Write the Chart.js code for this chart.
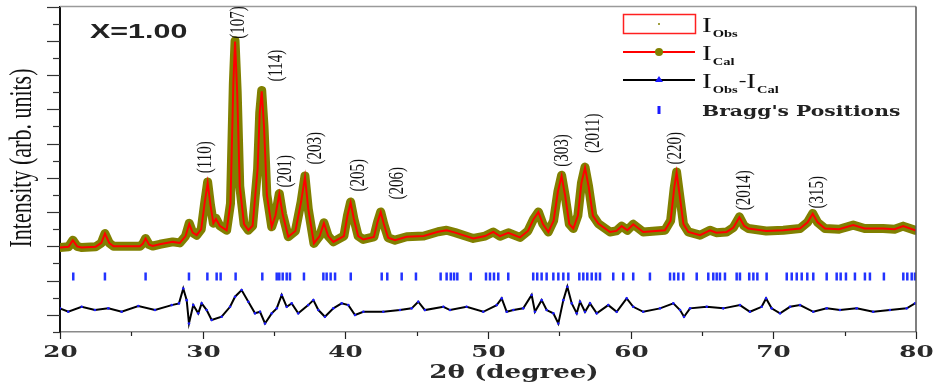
<!DOCTYPE html>
<html><head><meta charset="utf-8">
<script src="https://cdn.jsdelivr.net/npm/chart.js@4.4.1/dist/chart.umd.min.js"></script>
<style>html,body{margin:0;padding:0;background:#fff}#wrap{width:933px;height:387px;position:relative}</style>
</head><body><div id="wrap"><canvas id="c"></canvas></div>
<script>
// ---- data ----
const profileTheta = [20.0,20.6,20.9,21.2,21.5,22.5,22.9,23.15,23.45,23.75,25.6,25.8,26.0,26.25,26.5,27.0,27.9,28.4,28.8,29.06,29.3,29.58,29.9,30.15,30.35,30.55,30.75,30.93,31.2,31.68,31.95,32.15,32.27,32.42,32.6,32.9,33.2,33.5,33.85,34.0,34.14,34.3,34.5,34.84,35.1,35.37,35.6,36.0,36.5,36.9,37.17,37.4,37.8,38.2,38.5,38.8,39.16,39.9,40.15,40.37,40.6,40.9,41.26,42.0,42.25,42.48,42.7,43.0,43.48,44.3,45.5,46.5,47.1,47.7,48.97,49.8,50.37,50.84,51.42,52.24,52.8,53.2,53.53,53.85,54.23,54.6,54.9,55.16,55.4,55.7,55.98,56.3,56.55,56.8,57.05,57.35,57.73,58.55,59.0,59.37,59.77,60.18,60.88,62.4,62.8,63.05,63.22,63.4,63.7,64.04,64.86,65.56,66.0,66.73,67.2,67.62,67.95,68.25,69.5,70.7,71.87,72.4,72.76,73.1,73.62,74.6,75.6,76.4,77.7,78.5,79.1,79.93,80.0];
const observedIntensity = [4.93,4.98,5.36,5.0,4.93,4.98,5.2,5.75,5.2,5.0,5.0,5.15,5.46,5.1,5.02,5.12,5.26,5.2,5.6,6.35,5.8,5.65,6.0,7.6,8.76,7.4,6.35,6.64,6.2,5.94,7.5,14.5,17.0,14.0,8.5,6.3,5.94,6.2,9.5,12.8,14.1,12.0,8.0,6.14,6.8,8.08,6.9,5.56,5.9,7.6,9.11,7.2,5.17,5.6,6.37,5.6,5.26,5.6,6.8,7.59,6.6,5.6,5.4,5.55,6.4,7.01,6.3,5.5,5.36,5.56,5.6,5.85,5.94,5.8,5.46,5.6,5.84,5.59,5.79,5.52,5.9,6.6,7.01,6.3,5.84,6.5,8.2,9.15,8.0,6.3,6.04,6.8,8.7,9.63,8.5,6.8,6.33,5.84,5.9,6.18,5.94,6.29,5.84,5.94,6.5,8.4,9.34,8.2,6.3,5.84,5.65,5.94,5.8,5.84,6.1,6.72,6.2,6.04,5.9,5.94,6.04,6.4,6.92,6.4,6.04,6.0,6.24,6.04,6.04,6.0,6.18,5.94,5.94];
const calculatedIntensity = [4.93,4.98,5.36,5.0,4.93,4.98,5.2,5.75,5.2,5.0,5.0,5.15,5.46,5.1,5.02,5.12,5.26,5.2,5.6,6.3,5.8,5.65,6.0,7.6,8.7,7.4,6.35,6.6,6.2,5.94,7.5,14.5,16.95,14.0,8.5,6.3,5.94,6.2,9.5,12.8,14.05,12.0,8.0,6.14,6.8,8.05,6.9,5.56,5.9,7.6,9.05,7.2,5.17,5.6,6.35,5.6,5.26,5.6,6.8,7.55,6.6,5.6,5.4,5.55,6.4,7.0,6.3,5.5,5.36,5.56,5.6,5.85,5.94,5.8,5.46,5.6,5.84,5.59,5.79,5.52,5.9,6.6,7.0,6.3,5.84,6.5,8.2,9.1,8.0,6.3,6.04,6.8,8.7,9.6,8.5,6.8,6.33,5.84,5.9,6.18,5.94,6.29,5.84,5.94,6.5,8.4,9.3,8.2,6.3,5.84,5.65,5.94,5.8,5.84,6.1,6.7,6.2,6.04,5.9,5.94,6.04,6.4,6.9,6.4,6.04,6.0,6.24,6.04,6.04,6.0,6.18,5.94,5.94];
const diffTheta = [20.0,20.58,21.52,22.45,23.39,24.32,25.49,26.66,27.83,28.34,28.64,28.88,29.04,29.34,29.69,29.93,30.28,30.63,31.33,31.92,32.27,32.73,33.2,33.67,34.02,34.37,34.84,35.19,35.54,35.89,36.24,36.7,37.4,37.76,38.11,38.57,39.16,39.74,40.21,40.68,41.26,42.66,43.83,44.65,45.11,45.58,46.87,47.34,48.5,49.67,50.61,50.96,51.31,51.78,52.47,53.06,53.29,53.76,54.11,54.58,54.93,55.28,55.56,55.87,56.22,56.45,56.8,57.15,57.62,58.43,59.02,59.72,60.18,60.88,62.06,62.99,63.46,63.74,64.16,65.33,66.49,67.66,68.36,69.18,69.49,69.88,70.47,71.17,71.87,72.8,73.74,74.67,75.84,77.0,78.17,79.35,79.93];
const diffIntensity = [1.38,1.18,1.47,1.28,1.38,1.18,1.52,1.28,1.57,1.67,2.54,1.86,0.5,1.57,1.09,1.67,1.28,0.7,0.89,1.47,2.06,2.45,1.77,1.09,1.18,0.5,1.09,1.38,2.16,1.47,1.67,1.09,1.57,1.86,1.28,0.89,1.38,1.67,1.57,0.99,1.18,1.18,1.28,1.38,1.77,1.28,1.47,1.28,1.47,1.18,1.57,1.96,1.18,1.28,1.38,2.16,1.18,1.86,1.28,1.09,0.5,1.86,2.64,1.67,1.09,1.77,1.18,1.67,1.09,1.57,1.18,1.96,1.47,1.18,1.38,1.67,1.28,0.89,1.38,1.47,1.38,1.57,1.18,1.47,1.96,1.38,1.09,1.47,1.57,1.18,1.38,1.28,1.38,1.18,1.28,1.38,1.67];
const braggPositions = [20.93,23.15,26.0,29.04,30.33,30.98,31.26,32.31,34.18,35.19,35.37,35.61,35.89,36.12,37.1,38.46,38.69,38.97,39.28,40.38,42.55,42.94,43.95,44.95,46.68,47.1,47.39,47.62,47.85,48.79,49.86,50.14,50.42,50.72,51.42,53.17,53.45,53.76,54.11,54.58,54.93,55.28,55.63,56.4,56.68,56.96,57.27,57.57,57.85,58.78,59.48,60.18,61.35,62.76,63.04,63.34,63.69,64.63,65.44,65.79,66.03,66.26,66.61,67.43,67.66,68.31,68.6,68.88,69.53,70.94,71.29,71.64,71.99,72.38,72.8,73.74,74.44,74.72,75.09,75.72,76.42,76.77,77.75,79.11,79.39,79.7,79.93];
const braggLevel = 3.24;
const hklText  = ['(110)','(107)','(114)','(201)','(203)','(205)','(206)','(303)','(2011)','(220)','(2014)','(315)'];
const hklTheta = [30.16,32.48,35.14,35.77,37.87,40.89,43.62,55.19,57.36,63.11,67.94,73.06];
const hklLevel = [10.2,18.07,15.55,9.38,10.72,9.15,8.68,10.6,11.6,10.72,8.28,8.16];
const xTickValues = [20,30,40,50,60,70,80];
const xMinorTicks = [25,35,45,55,65,75];
const yTickValues = [0,1,2,3,4,5,6,7,8,9,10,11,12,13,14,15,16,17,18,19];
const sampleLabel = 'X=1.00';
const xTitle = '2θ (degree)';
const yTitle = 'Intensity (arb. units)';

const toPts = (xs, ys) => xs.map((x, i) => ({x, y: ys[i]}));

// ---- helpers ----
const SX = 1.45;
function sText(ctx, text, x, y, font, opt = {}) {
  ctx.save();
  ctx.font = font;
  ctx.fillStyle = opt.color || '#111';
  ctx.textAlign = opt.align || 'left';
  ctx.textBaseline = opt.baseline || 'alphabetic';
  ctx.translate(x, y);
  ctx.scale(opt.sx || SX, 1);
  if (opt.rot) ctx.rotate(opt.rot);
  ctx.fillText(text, 0, 0);
  const w = ctx.measureText(text).width * (opt.sx || SX);
  ctx.restore();
  return w;
}

const decor = {
  id: 'decor',
  afterDraw(chart) {
    const {ctx, chartArea: a, scales: {x, y}} = chart;
    ctx.save();
    // frame top/right
    ctx.strokeStyle = '#9a9a9a'; ctx.lineWidth = 1.5;
    ctx.beginPath(); ctx.moveTo(a.left, a.top); ctx.lineTo(a.right, a.top); ctx.stroke();
    ctx.strokeStyle = '#555'; ctx.beginPath(); ctx.moveTo(a.right, a.top); ctx.lineTo(a.right, a.bottom); ctx.stroke();
    // y ticks
    ctx.strokeStyle = '#333'; ctx.lineWidth = 1.2;
    yTickValues.forEach(v => {
      const py = Math.round(y.getPixelForValue(v)) + 0.5;
      const len = (v % 2 === 1) ? 13 : 7;
      ctx.beginPath(); ctx.moveTo(a.left - len, py); ctx.lineTo(a.left, py); ctx.stroke();
    });
    // x ticks
    ctx.strokeStyle = '#222';
    xTickValues.forEach(v => {
      const px = Math.round(x.getPixelForValue(v)) + 0.5;
      ctx.beginPath(); ctx.moveTo(px, a.bottom); ctx.lineTo(px, a.bottom + 7); ctx.stroke();
      sText(ctx, String(v), px, a.bottom + 25, 'bold 17px "DejaVu Serif"', {align: 'center', color: '#2a2a2a'});
    });
    xMinorTicks.forEach(v => {
      const px = Math.round(x.getPixelForValue(v)) + 0.5;
      ctx.beginPath(); ctx.moveTo(px, a.bottom); ctx.lineTo(px, a.bottom + 4); ctx.stroke();
    });
    // axis titles
    sText(ctx, xTitle, 514, 378, 'bold 18px "DejaVu Serif"', {align: 'center', color: '#2a2a2a'});
    sText(ctx, yTitle, 23, 158, '22px "Liberation Serif"', {align: 'center', baseline: 'middle', rot: -Math.PI / 2, color: '#111'});
    // hkl labels
    hklText.forEach((t, i) => {
      sText(ctx, t, x.getPixelForValue(hklTheta[i]), y.getPixelForValue(hklLevel[i]), '15px "Liberation Serif"',
        {align: 'center', baseline: 'middle', rot: -Math.PI / 2, color: '#111'});
    });
    // sample label
    sText(ctx, sampleLabel, 90, 38, 'bold 21px "Liberation Sans"', {color: '#222'});
    // legend
    const lx0 = 623, lx1 = 695, lc = 659, tx = 702;
    ctx.strokeStyle = '#ff2020'; ctx.lineWidth = 1.5;
    ctx.strokeRect(lx0 + 0.5, 14.5, lx1 - lx0, 19);
    ctx.fillStyle = '#808000'; ctx.beginPath(); ctx.arc(lc, 24, 1, 0, Math.PI * 2); ctx.fill();
    ctx.strokeStyle = '#ff0000'; ctx.lineWidth = 2;
    ctx.beginPath(); ctx.moveTo(lx0, 52); ctx.lineTo(lx1, 52); ctx.stroke();
    ctx.fillStyle = '#808000'; ctx.beginPath(); ctx.arc(lc, 52, 4, 0, Math.PI * 2); ctx.fill();
    ctx.strokeStyle = '#000'; ctx.lineWidth = 2;
    ctx.beginPath(); ctx.moveTo(lx0, 80); ctx.lineTo(lx1, 80); ctx.stroke();
    ctx.fillStyle = '#1a1aff'; ctx.beginPath(); ctx.moveTo(lc, 76); ctx.lineTo(lc + 4, 82); ctx.lineTo(lc - 4, 82); ctx.closePath(); ctx.fill();
    ctx.fillRect(lc - 1.5, 106, 3, 8);
    const big = '20px "Liberation Serif"', sub = 'bold 10px "Liberation Serif"';
    let cx = tx;
    cx += sText(ctx, 'I', cx, 32, big); sText(ctx, 'Obs', cx + 1, 37, sub);
    cx = tx;
    cx += sText(ctx, 'I', cx, 60, big); sText(ctx, 'Cal', cx + 1, 65, sub);
    cx = tx;
    cx += sText(ctx, 'I', cx, 88, big); cx += sText(ctx, 'Obs', cx + 1, 93, sub) + 2;
    cx += sText(ctx, '-', cx, 86, '16px "Liberation Serif"');
    cx += sText(ctx, 'I', cx, 88, big); sText(ctx, 'Cal', cx + 1, 93, sub);
    sText(ctx, "Bragg's Positions", tx, 116, 'bold 14px "DejaVu Serif"', {color: '#222'});
    ctx.restore();
  }
};

new Chart(document.getElementById('c'), {
  type: 'scatter',
  data: {
    datasets: [
      {label: 'I_Obs', data: toPts(profileTheta, observedIntensity), showLine: true, borderColor: '#808000',
       borderWidth: 9, pointRadius: 0, borderJoinStyle: 'round', borderCapStyle: 'round', order: 4},
      {label: 'I_Cal', data: toPts(profileTheta, calculatedIntensity), showLine: true, borderColor: '#ff0000',
       borderWidth: 2, pointRadius: 0, order: 3},
      {label: 'I_Obs-I_Cal', data: toPts(diffTheta, diffIntensity), showLine: true, borderColor: '#000',
       borderWidth: 2, pointRadius: 1.3, pointBackgroundColor: '#1a1aff', pointBorderWidth: 0, order: 2},
      {label: "Bragg's Positions", data: braggPositions.map(t => ({x: t, y: braggLevel})), showLine: false,
       pointStyle: 'line', pointRotation: 90, pointRadius: 4, pointBorderColor: '#2233ff', pointBorderWidth: 2.5, order: 1}
    ]
  },
  options: {
    responsive: true, maintainAspectRatio: false, animation: false, devicePixelRatio: 1,
    layout: {padding: {top: 6, right: 17, left: 0, bottom: 0}},
    plugins: {legend: {display: false}, tooltip: {enabled: false}},
    scales: {
      x: {type: 'linear', min: 20, max: 80, afterFit(s) { s.height = 55; },
          ticks: {display: false, stepSize: 10}, grid: {display: false},
          border: {display: true, color: '#8a8a8a', width: 1.5}},
      y: {type: 'linear', min: 0, max: 19, afterFit(s) { s.width = 60; },
          ticks: {display: false, stepSize: 1}, grid: {display: false},
          border: {display: true, color: '#111', width: 2}}
    }
  },
  plugins: [decor]
});
</script></body></html>
